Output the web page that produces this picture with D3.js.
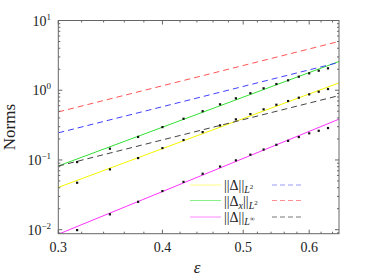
<!DOCTYPE html>
<html>
<head>
<meta charset="utf-8">
<title>Norms vs epsilon</title>
<style type="text/css">
body { margin: 0; background: #fff; }
svg text { font-family: "Liberation Serif", "DejaVu Serif", serif; fill: #222; }
</style>
<script src="https://cdn.jsdelivr.net/npm/d3@7"></script>
</head>
<body>
<script type="text/javascript">
var width = 374, height = 280;
var pLeft = 58.3, pRight = 339, pTop = 20.5, pBottom = 233.7;

// sample points (epsilon)
var eps = [0.316, 0.346, 0.374, 0.400, 0.424, 0.447, 0.469, 0.490, 0.510, 0.529, 0.548, 0.566, 0.583, 0.600, 0.616, 0.632];
// measured norms
var normDx = [0.0933, 0.145, 0.214, 0.296, 0.390, 0.500, 0.628, 0.765, 0.906, 1.065, 1.227, 1.387, 1.562, 1.748, 1.905, 2.062];
var normL2 = [0.0471, 0.0733, 0.1065, 0.148, 0.193, 0.251, 0.313, 0.382, 0.455, 0.532, 0.619, 0.700, 0.781, 0.873, 0.952, 1.040];
var normInf = [0.00987, 0.0166, 0.0251, 0.0358, 0.0485, 0.0634, 0.0804, 0.0987, 0.119, 0.141, 0.165, 0.188, 0.213, 0.241, 0.262, 0.287];

// reference lines  c * eps^p
var lineNames = ["fitL2", "fitDx", "fitInf", "boundL2", "boundDx", "boundInf"];
var lineCoef = [8.58, 17.4, 3.14, 9.07, 18.1, 3.03];
var lineExp = [4.45, 4.45, 4.9, 3, 3, 3];
var lineColor = ["#f5f500", "#33e033", "#ff33ff", "#4040ff", "#ff5555", "#444444"];
var legendColor = ["#ffff88", "#88f088", "#ff88ff", "#9999ff", "#ff9090", "#777777"];
var lineDash = [null, null, null, "6,4", "6,4", "6,4"];

var xDomain = [0.3, 0.6515];
var yDomain = [0.00876, 10];
var xMajor = [0.3, 0.4, 0.5, 0.6];
var xMinor = [0.32, 0.34, 0.36, 0.38, 0.42, 0.44, 0.46, 0.48, 0.52, 0.54, 0.56, 0.58, 0.62, 0.64];
var yMajor = [0.01, 0.1, 1, 10];
var yExpLabels = ["\u22122", "\u22121", "0", "1"];

var x = d3.scaleLog().domain(xDomain).range([pLeft, pRight]);
var y = d3.scaleLog().domain(yDomain).range([pBottom, pTop]);

var yMinor = [];
[0.001, 0.01, 0.1, 1].forEach(function(d) {
	[2, 3, 4, 5, 6, 7, 8, 9].forEach(function(k) {
		var v = d * k;
		if (v > yDomain[0] && v < yDomain[1]) yMinor.push(v);
	});
});

var svg = d3.select("body").append("svg")
	.attr("width", width)
	.attr("height", height);

svg.append("clipPath").attr("id", "clip")
	.append("rect")
	.attr("x", pLeft).attr("y", pTop)
	.attr("width", pRight - pLeft).attr("height", pBottom - pTop);

var plot = svg.append("g").attr("clip-path", "url(#clip)");

// reference lines
var line = d3.line()
	.x(function(d) { return x(d[0]); })
	.y(function(d) { return y(d[1]); });

lineNames.forEach(function(name, i) {
	var pts = xDomain.map(function(e) { return [e, lineCoef[i] * Math.pow(e, lineExp[i])]; });
	plot.append("path")
		.attr("d", line(pts))
		.attr("fill", "none")
		.attr("stroke", lineColor[i])
		.attr("stroke-width", 1)
		.attr("stroke-dasharray", lineDash[i]);
});

// data points
[normDx, normL2, normInf].forEach(function(series) {
	plot.selectAll(null)
		.data(series)
		.enter().append("rect")
		.attr("x", function(d, i) { return x(eps[i]) - 1.1; })
		.attr("y", function(d) { return y(d) - 1.1; })
		.attr("width", 2.2)
		.attr("height", 2.2)
		.attr("fill", "#111");
});

// frame + ticks
var frame = svg.append("g").attr("stroke", "#666").attr("stroke-width", 1).attr("fill", "none");
frame.append("rect")
	.attr("x", pLeft).attr("y", pTop)
	.attr("width", pRight - pLeft).attr("height", pBottom - pTop);

function xTicks(vals, len) {
	vals.forEach(function(v) {
		frame.append("line").attr("x1", x(v)).attr("x2", x(v)).attr("y1", pBottom).attr("y2", pBottom - len);
		frame.append("line").attr("x1", x(v)).attr("x2", x(v)).attr("y1", pTop).attr("y2", pTop + len);
	});
}
function yTicks(vals, len) {
	vals.forEach(function(v) {
		frame.append("line").attr("y1", y(v)).attr("y2", y(v)).attr("x1", pLeft).attr("x2", pLeft + len);
		frame.append("line").attr("y1", y(v)).attr("y2", y(v)).attr("x1", pRight).attr("x2", pRight - len);
	});
}
xTicks(xMajor, 4);
xTicks(xMinor, 2);
yTicks(yMajor, 4);
yTicks(yMinor, 2);

// tick labels
svg.append("g").selectAll("text")
	.data(xMajor)
	.enter().append("text")
	.attr("x", function(d) { return x(d); })
	.attr("y", 252)
	.attr("text-anchor", "middle")
	.attr("font-size", 14)
	.text(function(d) { return d3.format(".1f")(d); });

var yl = svg.append("g").selectAll("text")
	.data(yMajor)
	.enter().append("text")
	.attr("x", 51)
	.attr("y", function(d) { return y(d) + 5; })
	.attr("text-anchor", "end")
	.attr("font-size", 14);
yl.append("tspan").text("10");
yl.append("tspan")
	.attr("dy", -6)
	.attr("font-size", 9)
	.text(function(d, i) { return yExpLabels[i]; });

// axis titles
svg.append("text")
	.attr("transform", "translate(15," + ((pTop + pBottom) / 2) + ") rotate(-90)")
	.attr("text-anchor", "middle")
	.attr("font-size", 17)
	.text("Norms");

svg.append("text")
	.attr("x", 197)
	.attr("y", 273)
	.attr("text-anchor", "middle")
	.attr("font-size", 17)
	.attr("font-style", "italic")
	.text("\u03b5");

// legend
var legRows = [185, 200.5, 217];
var legLabels = [["\u0394", null, "2"], ["\u0394", "x", "2"], ["\u0394", null, "\u221e"]];
var leg = svg.append("g");
legRows.forEach(function(ry, i) {
	leg.append("line")
		.attr("x1", 190).attr("x2", 221).attr("y1", ry).attr("y2", ry)
		.attr("stroke", legendColor[i]).attr("stroke-width", 1);
	leg.append("line")
		.attr("x1", 272).attr("x2", 303).attr("y1", ry).attr("y2", ry)
		.attr("stroke", legendColor[i + 3]).attr("stroke-width", 1)
		.attr("stroke-dasharray", "5,3");
	var t = leg.append("text")
		.attr("x", 224)
		.attr("y", ry + 5)
		.attr("font-size", 14);
	t.append("tspan").text("||" + legLabels[i][0]);
	if (legLabels[i][1]) {
		t.append("tspan").attr("dy", 3).attr("font-size", 10).attr("font-style", "italic").text(legLabels[i][1]);
		t.append("tspan").attr("dy", -3).text("||");
	} else {
		t.append("tspan").text("||");
	}
	t.append("tspan").attr("dy", 3).attr("font-size", 10).attr("font-style", "italic").text("L");
	t.append("tspan").attr("dy", -4).attr("font-size", 7).text(legLabels[i][2]);
});
</script>
</body>
</html>
